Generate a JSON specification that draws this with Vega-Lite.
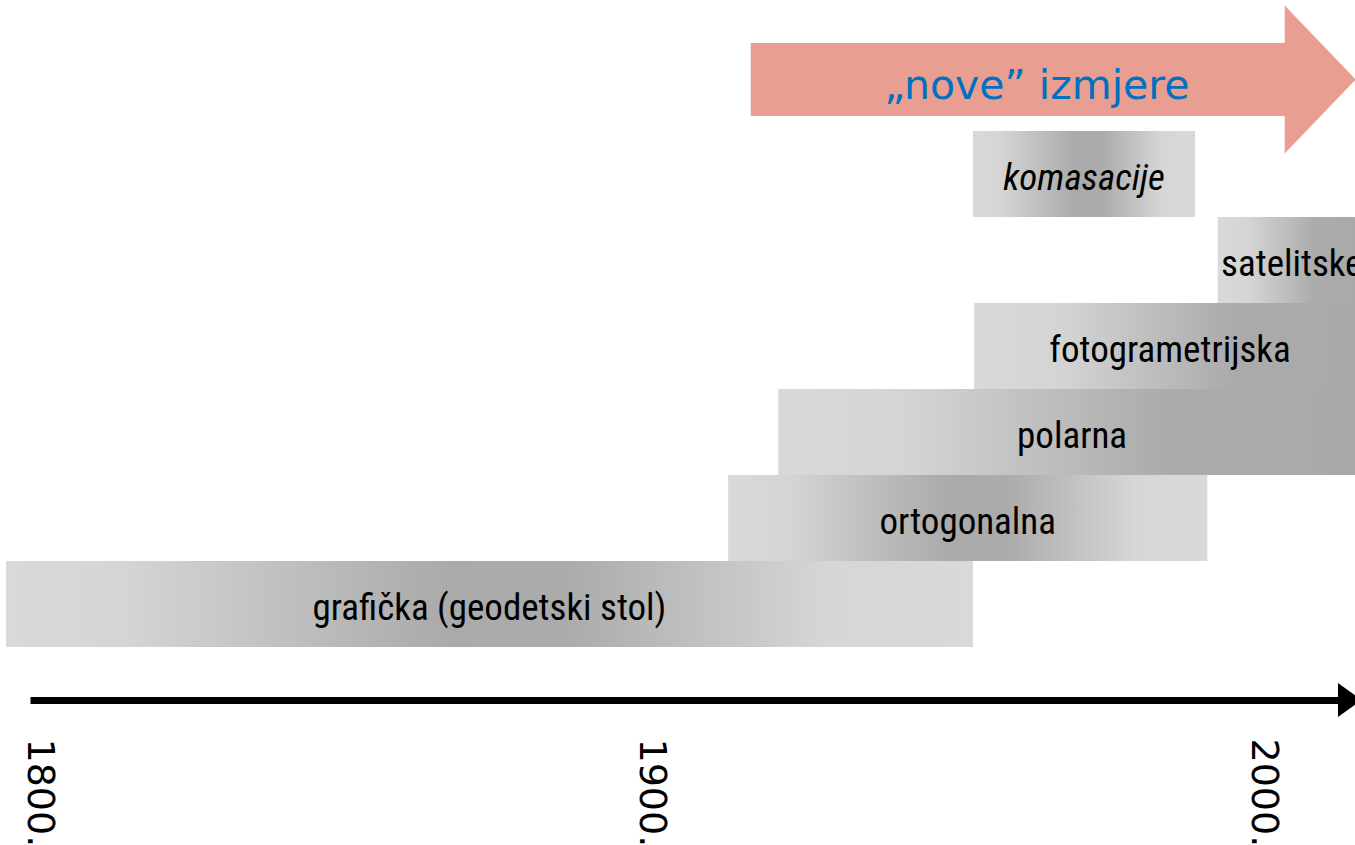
{
  "$schema": "https://vega.github.io/schema/vega-lite/v6.json",
  "width": 1355,
  "height": 655,
  "autosize": "none",
  "padding": {"left": 0, "top": 45, "right": 0, "bottom": 145},
  "background": "white",
  "config": {"view": {"stroke": null}},
  "data": {
    "values": [
      {"metoda": "„nove” izmjere", "od": 1916.4, "do": 2004.0},
      {"metoda": "komasacije", "od": 1952.7, "do": 1989.0},
      {"metoda": "satelitske", "od": 1992.7, "do": 2016.9},
      {"metoda": "fotogrametrijska", "od": 1952.9, "do": 2016.9},
      {"metoda": "polarna", "od": 1920.9, "do": 2016.9},
      {"metoda": "ortogonalna", "od": 1912.7, "do": 1991.0},
      {"metoda": "grafička (geodetski stol)", "od": 1794.7, "do": 1952.7}
    ]
  },
  "encoding": {
    "y": {
      "field": "metoda",
      "type": "nominal",
      "axis": null,
      "scale": {
        "domain": ["„nove” izmjere", "komasacije", "satelitske", "fotogrametrijska", "polarna", "ortogonalna", "grafička (geodetski stol)"],
        "range": [0, 602],
        "paddingInner": 0,
        "paddingOuter": 0
      }
    }
  },
  "layer": [
    {
      "transform": [{"filter": {"field": "metoda", "oneOf": ["grafička (geodetski stol)", "ortogonalna", "komasacije"]}}],
      "mark": {
        "type": "bar",
        "clip": true,
        "color": {
          "gradient": "linear", "x1": 0, "x2": 1, "y1": 0, "y2": 0,
          "stops": [
            {"offset": 0, "color": "#d9d9d9"},
            {"offset": 0.12, "color": "#d5d5d5"},
            {"offset": 0.46, "color": "#aaaaaa"},
            {"offset": 0.58, "color": "#ababab"},
            {"offset": 0.85, "color": "#d6d6d6"},
            {"offset": 1, "color": "#d9d9d9"}
          ]
        }
      },
      "encoding": {
        "x": {
          "field": "od",
          "type": "quantitative",
          "title": null,
          "scale": {"domain": [1798.63, 2015.13], "range": [30, 1355], "nice": false, "zero": false},
          "axis": {
            "values": [1800, 1900, 2000],
            "labelExpr": "datum.value + '.'",
            "labelAngle": 90,
            "labelAlign": "left",
            "labelBaseline": "middle",
            "labelFont": "DejaVu Sans",
            "labelFontSize": 38,
            "labelColor": "black",
            "labelPadding": 38,
            "ticks": false,
            "tickSize": 0,
            "domainColor": "black",
            "domainWidth": 7,
            "grid": false,
            "labelFlush": false,
            "labelOverlap": false,
            "labelBound": false,
            "title": null
          }
        },
        "x2": {"field": "do"}
      }
    },
    {
      "transform": [{"filter": {"field": "metoda", "oneOf": ["polarna", "fotogrametrijska", "satelitske"]}}],
      "mark": {
        "type": "bar",
        "clip": true,
        "color": {
          "gradient": "linear", "x1": 0, "x2": 1, "y1": 0, "y2": 0,
          "stops": [
            {"offset": 0, "color": "#d9d9d9"},
            {"offset": 0.22, "color": "#d4d4d4"},
            {"offset": 0.66, "color": "#ababab"},
            {"offset": 1, "color": "#a9a9a9"}
          ]
        }
      },
      "encoding": {
        "x": {"field": "od", "type": "quantitative", "title": null},
        "x2": {"field": "do"}
      }
    },
    {
      "transform": [{"filter": {"field": "metoda", "equal": "„nove” izmjere"}}],
      "mark": {"type": "bar", "height": 73, "yOffset": -8.5, "color": "#e89e90"},
      "encoding": {
        "x": {"field": "od", "type": "quantitative", "title": null},
        "x2": {"field": "do"}
      }
    },
    {
      "transform": [{"filter": {"field": "metoda", "equal": "„nove” izmjere"}}],
      "mark": {"type": "point", "shape": "M-0.03,-1L0.93,0L-0.03,1Z", "size": 21904, "filled": true, "opacity": 1, "color": "#e89e90", "strokeWidth": 0, "yOffset": -8.5},
      "encoding": {
        "x": {"field": "do", "type": "quantitative", "title": null}
      }
    },
    {
      "transform": [
        {"filter": {"field": "metoda", "oneOf": ["grafička (geodetski stol)", "ortogonalna", "polarna", "fotogrametrijska", "satelitske"]}},
        {"calculate": "(datum.od + datum.do) / 2", "as": "sredina"}
      ],
      "mark": {"type": "text", "font": "Liberation Sans Narrow, Noto Sans ExtraCondensed, Noto Sans Condensed, Roboto Condensed, Open Sans Condensed, DejaVu Sans Condensed, Liberation Sans", "fontSize": 37, "align": "center", "baseline": "middle", "color": "black", "dy": 5},
      "encoding": {
        "x": {"field": "sredina", "type": "quantitative", "title": null},
        "text": {"field": "metoda"}
      }
    },
    {
      "transform": [
        {"filter": {"field": "metoda", "equal": "komasacije"}},
        {"calculate": "(datum.od + datum.do) / 2", "as": "sredina"}
      ],
      "mark": {"type": "text", "font": "Liberation Sans Narrow, Noto Sans ExtraCondensed, Noto Sans Condensed, Roboto Condensed, Open Sans Condensed, DejaVu Sans Condensed, Liberation Sans", "fontSize": 37, "fontStyle": "italic", "align": "center", "baseline": "middle", "color": "black", "dy": 5},
      "encoding": {
        "x": {"field": "sredina", "type": "quantitative", "title": null},
        "text": {"field": "metoda"}
      }
    },
    {
      "transform": [
        {"filter": {"field": "metoda", "equal": "„nove” izmjere"}},
        {"calculate": "(datum.od + datum.do) / 2", "as": "sredina"}
      ],
      "mark": {"type": "text", "font": "DejaVu Sans", "fontSize": 41, "align": "center", "baseline": "middle", "color": "#0070c0", "dx": 18, "dy": -1},
      "encoding": {
        "x": {"field": "sredina", "type": "quantitative", "title": null},
        "text": {"field": "metoda"}
      }
    },
    {
      "data": {"values": [{"kraj": 2012.35}]},
      "mark": {"type": "point", "shape": "M0,-1L1.4,0L0,1Z", "size": 1156, "filled": true, "opacity": 1, "color": "black", "strokeWidth": 0},
      "encoding": {
        "x": {"field": "kraj", "type": "quantitative", "title": null},
        "y": {"value": "height"}
      }
    }
  ]
}
